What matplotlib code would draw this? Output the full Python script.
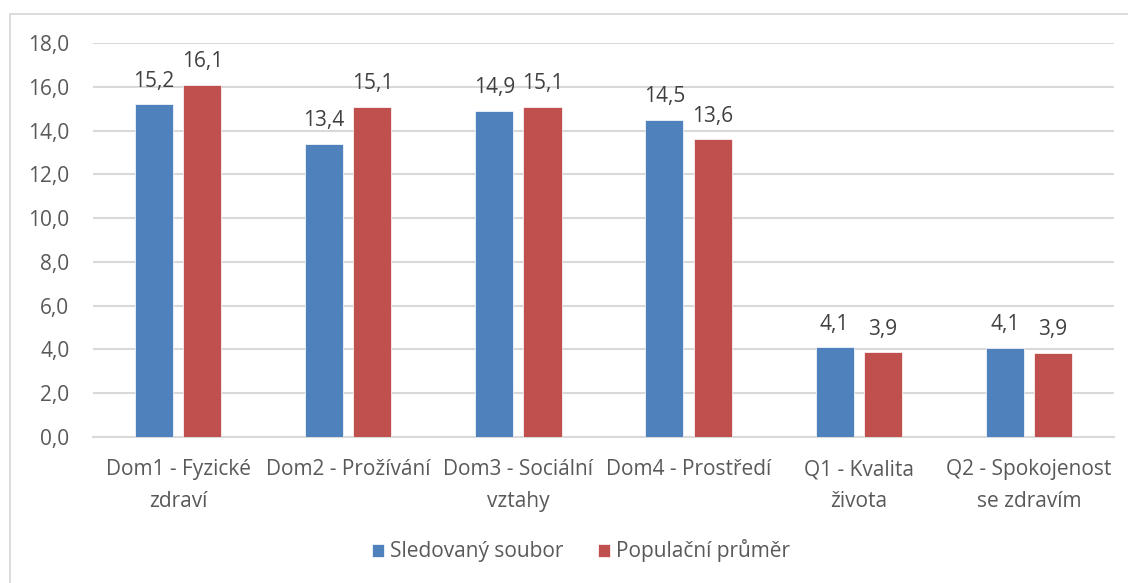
import matplotlib.pyplot as plt
import numpy as np
from matplotlib.patches import Rectangle

plt.rcParams['font.family'] = ['Open Sans', 'DejaVu Sans']

categories = ["Dom1 - Fyzické\nzdraví", "Dom2 - Prožívání", "Dom3 - Sociální\nvztahy",
              "Dom4 - Prostředí", "Q1 - Kvalita\nživota", "Q2 - Spokojenost\nse zdravím"]
sledovany = [15.2, 13.4, 14.9, 14.5, 4.1, 4.08]
populacni = [16.1, 15.1, 15.1, 13.6, 3.88, 3.86]
series_names = ["Sledovaný soubor", "Populační průměr"]
yticks = np.arange(0, 20, 2)

blue = "#4F81BD"
red = "#C0504D"
grey_text = "#595959"
grid_c = "#D9D9D9"
fs = 15

fig = plt.figure(figsize=(11.28, 5.83), dpi=100)
ax = fig.add_axes([0.0824, 0.2504, 0.9052, 0.6758])

# chart border (top & left visible)
fig.patches.append(Rectangle((10 / 1128, -0.01), 1.1, 1 - 14 / 583 + 0.01,
                             transform=fig.transFigure, fill=False,
                             edgecolor=grid_c, linewidth=1.3))

x = np.arange(len(categories))
w = 0.224
off = 0.142
b1 = ax.bar(x - off, sledovany, w, color=blue, edgecolor="white", linewidth=0.5,
            label=series_names[0], zorder=3)
b2 = ax.bar(x + off, populacni, w, color=red, edgecolor="white", linewidth=0.5,
            label=series_names[1], zorder=3)

for bars, vals in ((b1, sledovany), (b2, populacni)):
    for rect, v in zip(bars, vals):
        ax.annotate(f"{v:.1f}".replace(".", ","),
                    (rect.get_x() + rect.get_width() / 2, rect.get_height()),
                    xytext=(0, 9), textcoords="offset points",
                    ha="center", va="bottom", fontsize=fs, color="#404040")

ax.set_xlim(-0.5, len(categories) - 0.5)
ax.set_ylim(0, 18)
ax.set_yticks(yticks)
ax.set_yticklabels([f"{t:.1f}".replace(".", ",") for t in yticks])
ax.set_xticks(x)
ax.set_xticklabels(categories, linespacing=1.65)
ax.tick_params(axis="both", length=0, labelsize=fs, labelcolor=grey_text)
ax.tick_params(axis="x", pad=16)
ax.tick_params(axis="y", pad=17)
ax.grid(axis="y", color=grid_c, linewidth=1.5, zorder=0)
for s in ["top", "right", "left"]:
    ax.spines[s].set_visible(False)
ax.spines["bottom"].set_color(grid_c)
ax.spines["bottom"].set_linewidth(1.5)

fig.legend(loc="center", bbox_to_anchor=(0.515, 1 - 551 / 583), ncol=2,
           frameon=False, fontsize=fs, labelcolor=grey_text,
           handlelength=0.58, handleheight=0.58, handletextpad=0.25,
           columnspacing=1.7)

fig.savefig("out.png", dpi=100)
